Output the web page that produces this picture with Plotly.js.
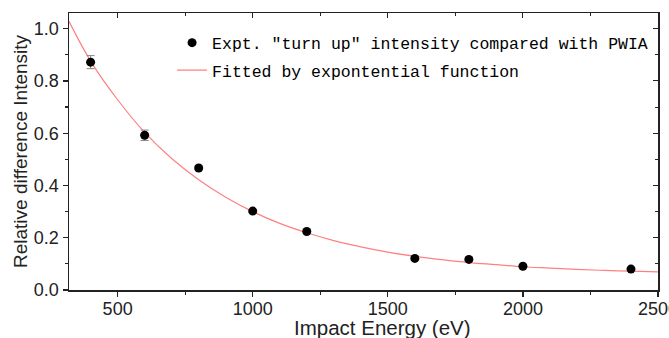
<!DOCTYPE html>
<html><head><meta charset="utf-8">
<script src="https://cdn.plot.ly/plotly-3.0.1.min.js"></script>
<style>html,body{margin:0;padding:0;background:#fff}#chart{width:669px;height:338px}</style>
</head><body><div id="chart"></div>
<script>
// Experimental data
const energies = [400, 600, 800, 1000, 1200, 1600, 1800, 2000, 2400];
const intensities = [0.872, 0.592, 0.467, 0.302, 0.224, 0.121, 0.117, 0.091, 0.080];
const errors = [0.025, 0.02, 0.008, 0.006, 0.006, 0.005, 0.005, 0.005, 0.005];
// Fitted curve
const fitX = [320, 400, 500, 600, 700, 800, 900, 1000, 1100, 1200, 1300, 1400, 1500, 1600, 1700, 1800, 1900, 2000, 2100, 2200, 2300, 2400, 2500];
const fitY = [1.028, 0.876, 0.728, 0.603, 0.503, 0.422, 0.355, 0.300, 0.255, 0.219, 0.189, 0.165, 0.145, 0.129, 0.116, 0.105, 0.097, 0.089, 0.084, 0.079, 0.075, 0.072, 0.069];
const legendNames = ['Expt. "turn up" intensity compared with PWIA', 'Fitted by expontential function'];
const xTitle = 'Impact Energy (eV)';
const yTitle = 'Relative difference Intensity';

const traces = [
  {x: fitX, y: fitY, type: 'scatter', mode: 'lines', name: legendNames[1], legendgroup: 'b', legendrank: 2,
   line: {color: '#ff8080', width: 1.2, shape: 'spline'}, showlegend: true},
  {x: energies, y: intensities, type: 'scatter', mode: 'markers', name: legendNames[0], legendgroup: 'a', legendrank: 1,
   marker: {color: '#000', size: 9},
   error_y: {type: 'data', array: errors, visible: true, color: '#888', thickness: 1, width: 4}},
  {x: [320], y: [0], xaxis: 'x2', yaxis: 'y2', mode: 'markers', marker: {opacity: 0}, showlegend: false, hoverinfo: 'skip'}
];

const axisCommon = {showgrid: false, zeroline: false, linecolor: '#222', linewidth: 1.5, mirror: false};
const layout = {
  width: 669, height: 338,
  margin: {l: 69, r: 11, t: 13, b: 48},
  paper_bgcolor: '#fff', plot_bgcolor: '#fff',
  font: {family: 'Liberation Sans, Arial, sans-serif', color: '#222'},
  xaxis: Object.assign({}, axisCommon, {
    range: [320, 2500], tickvals: [500, 1000, 1500, 2000, 2500],
    ticks: 'outside', ticklen: 5, tickwidth: 1.2, tickcolor: '#222', ticklabeloverflow: 'allow',
    ticklabelstandoff: -3,
    minor: {tickvals: [750, 1250, 1750, 2250], ticks: 'outside', ticklen: 3, tickcolor: '#222'},
    tickfont: {size: 18, color: '#222'}
  }),
  yaxis: Object.assign({}, axisCommon, {
    range: [0, 1.06], tickvals: [0, 0.2, 0.4, 0.6, 0.8, 1.0], tickformat: '.1f',
    ticks: 'outside', ticklen: 5, tickwidth: 1.2, tickcolor: '#222',
    minor: {tickvals: [0.1, 0.3, 0.5, 0.7, 0.9], ticks: 'outside', ticklen: 3, tickcolor: '#222'},
    tickfont: {size: 18, color: '#222'},
    title: {text: yTitle, font: {size: 19, color: '#222'}, standoff: 1}
  }),
  xaxis2: Object.assign({}, axisCommon, {
    overlaying: 'x', side: 'top', range: [320, 2500], tickvals: [500, 1000, 1500, 2000, 2500],
    showticklabels: false, ticks: 'inside', ticklen: 5, tickcolor: '#222',
    minor: {tickvals: [750, 1250, 1750, 2250], ticks: 'inside', ticklen: 3, tickcolor: '#222'}
  }),
  yaxis2: Object.assign({}, axisCommon, {
    overlaying: 'y', side: 'right', range: [0, 1.06], tickvals: [0, 0.2, 0.4, 0.6, 0.8, 1.0],
    showticklabels: false, ticks: 'inside', ticklen: 5, tickcolor: '#222',
    minor: {tickvals: [0.1, 0.3, 0.5, 0.7, 0.9], ticks: 'inside', ticklen: 3, tickcolor: '#222'}
  }),
  annotations: [{text: xTitle, xref: 'paper', yref: 'paper', x: 0.533, y: -0.137,
    xanchor: 'center', yanchor: 'middle', showarrow: false, font: {size: 20.5, color: '#222'}}],
  legend: {x: 0.175, y: 0.955, xanchor: 'left', yanchor: 'top', bgcolor: 'rgba(0,0,0,0)',
    traceorder: 'grouped', font: {family: 'Liberation Mono, monospace', size: 16.5, color: '#000'},
    tracegroupgap: 3, itemwidth: 30},
  showlegend: true
};
Plotly.newPlot('chart', traces, layout, {displayModeBar: false, staticPlot: true});
</script></body></html>
